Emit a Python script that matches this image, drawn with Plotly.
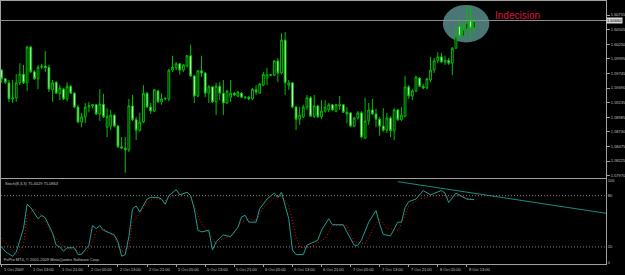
import plotly.graph_objects as go

# ---------------- data ----------------
opens = [
    1.5980, 1.5965, 1.5958, 1.5930, 1.5932, 1.5958, 1.5973, 1.5958, 1.6020, 1.5977,
    1.5965, 1.5985, 1.5987, 1.5985, 1.5946, 1.5959, 1.5939, 1.5947, 1.5930, 1.5952,
    1.5940, 1.5916, 1.5890, 1.5899, 1.5916, 1.5918, 1.5920, 1.5904, 1.5921, 1.5881,
    1.5883, 1.5902, 1.5883, 1.5847, 1.5845, 1.5842, 1.5918, 1.5894, 1.5876, 1.5890,
    1.5940, 1.5916, 1.5909, 1.5944, 1.5925, 1.5930, 1.5930, 1.5980, 1.5984, 1.5991,
    1.5980, 1.5987, 1.6005, 1.5970, 1.5935, 1.5979, 1.5975, 1.5940, 1.5951, 1.5925,
    1.5952, 1.5940, 1.5923, 1.5933, 1.5940, 1.5935, 1.5940, 1.5932, 1.5933, 1.5930,
    1.5946, 1.5940, 1.5954, 1.5966, 1.5972, 1.5971, 1.5996, 1.5975, 1.6032, 1.5954,
    1.5958, 1.5916, 1.5895, 1.5899, 1.5916, 1.5932, 1.5900, 1.5918, 1.5899, 1.5909,
    1.5911, 1.5920, 1.5909, 1.5918, 1.5920, 1.5907, 1.5906, 1.5883, 1.5897, 1.5906,
    1.5862, 1.5892, 1.5911, 1.5904, 1.5895, 1.5883, 1.5876, 1.5897, 1.5875, 1.5911,
    1.5894, 1.5900, 1.5951, 1.5935, 1.5944, 1.5966, 1.5952, 1.5949, 1.5963, 1.5980,
    1.5996, 1.6003, 1.5994, 1.5997, 1.5992, 1.6018, 1.6056, 1.6039, 1.6051, 1.6065,
    1.6053]
highs = [
    1.5982, 1.5966, 1.5963, 1.5963, 1.5973, 1.5992, 1.5989, 1.6022, 1.6022, 1.5980,
    1.5989, 1.5991, 1.6013, 1.5989, 1.5963, 1.5961, 1.5954, 1.5949, 1.5959, 1.5954,
    1.5942, 1.5920, 1.5906, 1.5923, 1.5925, 1.5921, 1.5921, 1.5947, 1.5939, 1.5914,
    1.5911, 1.5904, 1.5885, 1.5864, 1.5864, 1.5930, 1.5937, 1.5899, 1.5906, 1.5954,
    1.5942, 1.5923, 1.5947, 1.5946, 1.5940, 1.5933, 1.5982, 1.6005, 1.5994, 1.5992,
    1.5991, 1.6006, 1.6024, 1.5972, 1.5980, 1.6005, 1.5977, 1.5954, 1.5952, 1.5958,
    1.5959, 1.5963, 1.5946, 1.5963, 1.5942, 1.5944, 1.5942, 1.5935, 1.5935, 1.5949,
    1.5954, 1.5958, 1.5977, 1.5984, 1.5973, 1.5997, 1.6001, 1.6044, 1.6046, 1.5963,
    1.5959, 1.5918, 1.5916, 1.5920, 1.5937, 1.5935, 1.5937, 1.5920, 1.5928, 1.5928,
    1.5923, 1.5921, 1.5921, 1.5935, 1.5921, 1.5916, 1.5907, 1.5899, 1.5909, 1.5909,
    1.5932, 1.5923, 1.5930, 1.5913, 1.5899, 1.5914, 1.5906, 1.5900, 1.5914, 1.5913,
    1.5916, 1.5970, 1.5954, 1.5947, 1.5970, 1.5968, 1.5956, 1.5966, 1.6003, 1.6001,
    1.6011, 1.6010, 1.6005, 1.6001, 1.6020, 1.6055, 1.6070, 1.6062, 1.6089, 1.6091,
    1.6070]
lows = [
    1.5958, 1.5956, 1.5925, 1.5923, 1.5925, 1.5954, 1.5956, 1.5944, 1.5975, 1.5963,
    1.5947, 1.5982, 1.5977, 1.5942, 1.5925, 1.5939, 1.5928, 1.5928, 1.5926, 1.5939,
    1.5914, 1.5888, 1.5881, 1.5888, 1.5907, 1.5914, 1.5902, 1.5892, 1.5897, 1.5864,
    1.5876, 1.5881, 1.5845, 1.5843, 1.5802, 1.5838, 1.5892, 1.5859, 1.5873, 1.5888,
    1.5914, 1.5904, 1.5907, 1.5923, 1.5920, 1.5928, 1.5926, 1.5977, 1.5980, 1.5972,
    1.5977, 1.5985, 1.5968, 1.5923, 1.5933, 1.5968, 1.5933, 1.5923, 1.5923, 1.5902,
    1.5928, 1.5902, 1.5921, 1.5925, 1.5935, 1.5933, 1.5932, 1.5930, 1.5928, 1.5928,
    1.5937, 1.5939, 1.5952, 1.5954, 1.5970, 1.5970, 1.5959, 1.5973, 1.5937, 1.5946,
    1.5914, 1.5876, 1.5885, 1.5897, 1.5911, 1.5899, 1.5897, 1.5897, 1.5895, 1.5906,
    1.5907, 1.5909, 1.5907, 1.5911, 1.5906, 1.5888, 1.5881, 1.5881, 1.5894, 1.5862,
    1.5861, 1.5885, 1.5902, 1.5881, 1.5866, 1.5873, 1.5871, 1.5864, 1.5859, 1.5892,
    1.5892, 1.5899, 1.5930, 1.5928, 1.5942, 1.5951, 1.5947, 1.5947, 1.5959, 1.5975,
    1.5992, 1.5992, 1.5989, 1.5989, 1.5971, 1.6017, 1.6037, 1.6037, 1.6048, 1.6034,
    1.6044]
closes = [
    1.5965, 1.5959, 1.5930, 1.5932, 1.5958, 1.5973, 1.5958, 1.6020, 1.5977, 1.5965,
    1.5985, 1.5987, 1.5984, 1.5947, 1.5958, 1.5940, 1.5949, 1.5930, 1.5952, 1.5940,
    1.5916, 1.5890, 1.5899, 1.5916, 1.5918, 1.5920, 1.5904, 1.5921, 1.5899, 1.5900,
    1.5902, 1.5883, 1.5847, 1.5845, 1.5842, 1.5918, 1.5894, 1.5876, 1.5890, 1.5940,
    1.5916, 1.5909, 1.5946, 1.5925, 1.5930, 1.5931, 1.5980, 1.5985, 1.5991, 1.5980,
    1.5989, 1.6005, 1.5970, 1.5935, 1.5979, 1.5975, 1.5940, 1.5951, 1.5925, 1.5952,
    1.5940, 1.5923, 1.5944, 1.5940, 1.5937, 1.5942, 1.5933, 1.5933, 1.5930, 1.5947,
    1.5942, 1.5956, 1.5973, 1.5972, 1.5971, 1.5996, 1.5975, 1.6032, 1.5958, 1.5958,
    1.5916, 1.5895, 1.5902, 1.5916, 1.5932, 1.5900, 1.5918, 1.5899, 1.5909, 1.5916,
    1.5920, 1.5911, 1.5920, 1.5920, 1.5907, 1.5904, 1.5883, 1.5897, 1.5906, 1.5864,
    1.5892, 1.5911, 1.5904, 1.5895, 1.5883, 1.5876, 1.5897, 1.5875, 1.5911, 1.5894,
    1.5902, 1.5951, 1.5935, 1.5944, 1.5968, 1.5952, 1.5949, 1.5965, 1.5980, 1.5996,
    1.6003, 1.5994, 1.5997, 1.5992, 1.6018, 1.6039, 1.6039, 1.6051, 1.6063, 1.6053,
    1.6066]

stoch_main_idx = [0, 1, 3, 4, 6, 7, 8, 10, 11, 12, 14, 15, 16, 17, 18, 20, 21, 22, 24, 25,
                  26, 27, 28, 31, 32, 33, 34, 35, 36, 37, 38, 40, 41, 43, 44, 45, 46, 48, 49, 51,
                  52, 53, 54, 55, 57, 58, 59, 61, 63, 65, 66, 67, 68, 70, 71, 73, 75, 76, 77, 79,
                  80, 81, 83, 84, 86, 87, 88, 90, 91, 94, 95, 97, 98, 99, 101, 103, 104, 105, 107, 109,
                  110, 111, 112, 114, 116, 118, 121, 122, 123, 125, 128, 130]
stoch_main_val = [20, 14.5, 9, 14, 41.5, 70, 66, 53, 57, 54, 36, 22, 20, 15, 19, 19, 11, 11.5, 22, 45,
                  41.5, 45, 39.5, 34, 26, 9, 11, 32, 64.6, 68, 61, 76, 78, 78, 76, 70, 80, 87, 81, 84,
                  80, 64.6, 39.5, 37.6, 39.5, 16.5, 26, 34, 32, 43, 55, 57, 49, 49, 64.6, 76, 83, 78, 84, 53,
                  16.5, 11, 11, 22, 26, 28, 39.5, 53, 46, 46, 37.6, 22, 22, 28, 49, 62.6, 47, 34.6, 33, 49,
                  49, 66, 73, 76, 86, 81, 86, 83, 72, 83, 76, 75.4]
stoch_sig_idx = [0, 2, 4, 6, 7, 9, 11, 13, 16, 18, 20, 22, 24, 26, 28, 31, 33, 35, 36, 38,
                 40, 42, 45, 46, 49, 52, 54, 55, 56, 59, 61, 63, 66, 68, 70, 72, 75, 77, 79, 81,
                 82, 84, 86, 89, 91, 93, 95, 97, 100, 102, 104, 106, 109, 110, 112, 115, 118, 121, 123, 126,
                 128, 130]
stoch_sig_val = [30, 20, 11, 22, 57, 64.6, 57, 41.5, 24, 19, 16.5, 12.7, 16.5, 37.6, 41.5, 32, 14.5, 18.5, 49, 59,
                 72, 77, 74, 78, 82, 78, 57, 47, 41.5, 24, 30, 32, 49, 53, 51, 66, 78, 80, 68, 32,
                 20, 18.5, 22, 30, 45, 45, 45, 26, 24, 39.5, 53, 41.5, 39.5, 47, 68, 76, 79, 82, 78, 80,
                 77, 75.1]

trend_idx = [109, 166.3]
trend_val = [96.4, 59.4]

stoch_levels = [80, 20]
# MetaTrader prints the 0/100 labels just inside the window edges
stoch_tick_pos = [2.2, 20, 80, 97.2]
stoch_tick_text = ["0", "20", "80", "100"]

price_ticks = [1.57970, 1.58225, 1.58475, 1.58730, 1.58985, 1.59235,
               1.59490, 1.59745, 1.59995, 1.60250, 1.60505, 1.60755]
bid_price = 1.60660

date_tick_idx = [0, 8, 16, 24, 32, 40, 48, 56, 64, 72, 80, 88, 96, 104, 112, 120, 128]
date_labels = ["1 Oct 2009", "1 Oct 13:00", "1 Oct 21:00", "2 Oct 05:00", "2 Oct 13:00",
               "2 Oct 21:00", "5 Oct 05:00", "5 Oct 13:00", "5 Oct 21:00", "6 Oct 05:00",
               "6 Oct 13:00", "6 Oct 21:00", "7 Oct 05:00", "7 Oct 13:00", "7 Oct 21:00",
               "8 Oct 05:00", "8 Oct 13:00"]

ellipse_idx = [121.4, 134.2]
ellipse_price = [1.6028, 1.6093]
note_idx = 135.2
note_price = 1.6075

# ---------------- figure ----------------
FONT = "Liberation Sans"
BORDER = "#a0a0a0"
TXT = "#c0c0c0"
CANDLE = "#00c000"
STOCH = "#1f9e92"
X_RANGE = [-0.19, 166.29]

fig = go.Figure()
fig.add_trace(go.Candlestick(
    x=list(range(len(opens))), open=opens, high=highs, low=lows, close=closes,
    increasing=dict(line=dict(color=CANDLE, width=1), fillcolor="#000000"),
    decreasing=dict(line=dict(color=CANDLE, width=1), fillcolor="#e8ffe8"),
    whiskerwidth=0, xaxis="x", yaxis="y", hoverinfo="skip"))

fig.add_trace(go.Scatter(x=trend_idx, y=trend_val, mode="lines",
                         line=dict(color="#1b8a80", width=1), xaxis="x2", yaxis="y2"))
fig.add_trace(go.Scatter(x=stoch_sig_idx, y=stoch_sig_val, mode="lines",
                         line=dict(color="#e01010", width=1, dash="1px,2px"),
                         xaxis="x2", yaxis="y2"))
fig.add_trace(go.Scatter(x=stoch_main_idx, y=stoch_main_val, mode="lines",
                         line=dict(color=STOCH, width=1), xaxis="x2", yaxis="y2"))

shapes = [
    dict(type="circle", xref="x", yref="y", x0=ellipse_idx[0], x1=ellipse_idx[1],
         y0=ellipse_price[0], y1=ellipse_price[1], fillcolor="#4a7676",
         line=dict(width=0), layer="below"),
    dict(type="line", xref="x domain", yref="y", x0=0, x1=1, y0=bid_price, y1=bid_price,
         line=dict(color="#8c8c8c", width=1)),
]
for lv in stoch_levels:
    shapes.append(dict(type="line", xref="x2 domain", yref="y2", x0=0, x1=1, y0=lv, y1=lv,
                       line=dict(color="#808080", width=1, dash="1px,2px")))

annotations = [
    dict(x=note_idx, y=note_price, xref="x", yref="y", text="Indecision", showarrow=False,
         xanchor="left", yanchor="middle", font=dict(family=FONT, size=10, color="#dc143c")),
    dict(x=0.003, y=(264 - 183.5) / 263, xref="paper", yref="paper",
         text="Stoch(8,3,3) 75.4029 75.0863", showarrow=False, xanchor="left", yanchor="middle",
         font=dict(family=FONT, size=4, color=TXT)),
    dict(x=0.002, y=0.0, xref="paper", yref="paper",
         text="FxPro MT4, © 2001-2009 MetaQuotes Software Corp.", showarrow=False,
         xanchor="left", yanchor="bottom", font=dict(family=FONT, size=4, color=TXT)),
    dict(x=1.0, y=bid_price, xref="paper", yref="y", text=f"{bid_price:.5f}", showarrow=False,
         xanchor="left", yanchor="middle", bgcolor="#d8d8d8", borderpad=0,
         font=dict(family=FONT, size=4, color="#000000")),
]
for i, lab in zip(date_tick_idx, date_labels):
    annotations.append(dict(x=i, y=(264 - 269) / 263, xref="x2", yref="paper", text=lab,
                            showarrow=False, xanchor="left", yanchor="middle",
                            font=dict(family=FONT, size=4, color=TXT)))

fig.update_layout(
    width=625, height=275,
    margin=dict(l=1, r=19, t=1, b=11),
    paper_bgcolor="#000000", plot_bgcolor="#000000",
    showlegend=False,
    shapes=shapes, annotations=annotations,
    xaxis=dict(domain=[0, 1], anchor="y", range=X_RANGE, showline=True, mirror=True,
               linecolor=BORDER, linewidth=1, showticklabels=False, ticks="",
               showgrid=False, zeroline=False, rangeslider=dict(visible=False)),
    yaxis=dict(domain=[(264 - 177.5) / 263, 1], anchor="x", range=[1.57939, 1.60998],
               side="right", tickvals=price_ticks, ticktext=[f"{v:.5f}" for v in price_ticks],
               ticks="outside", ticklen=3, tickcolor=BORDER,
               tickfont=dict(family=FONT, size=4, color=TXT),
               showline=True, mirror=True, linecolor=BORDER, linewidth=1,
               showgrid=False, zeroline=False, automargin=False),
    xaxis2=dict(domain=[0, 1], anchor="y2", range=X_RANGE, showline=True, mirror=True,
                linecolor=BORDER, linewidth=1, tickvals=date_tick_idx, ticks="outside",
                ticklen=2, tickcolor=BORDER, showticklabels=False,
                showgrid=False, zeroline=False),
    yaxis2=dict(domain=[0, (264 - 178.6) / 263], anchor="x2", range=[0, 100], side="right",
                tickvals=stoch_tick_pos, ticktext=stoch_tick_text,
                ticks="", tickfont=dict(family=FONT, size=4, color=TXT),
                showline=True, mirror=True, linecolor=BORDER, linewidth=1,
                showgrid=False, zeroline=False, automargin=False),
)

fig.write_html("out.html")
